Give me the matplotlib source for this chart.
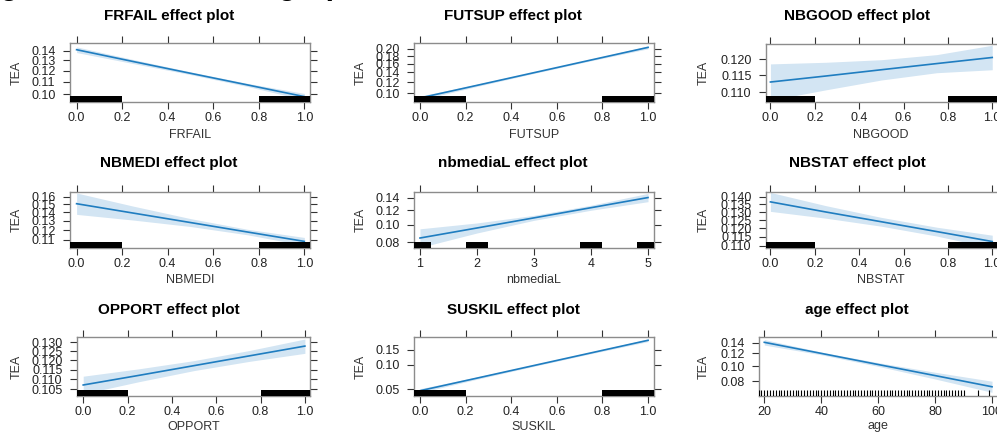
import matplotlib.pyplot as plt
from matplotlib.ticker import NullLocator

W, H = 997, 434

# values (TEA probability, logit axis)
x01 = [0.0, 0.25, 0.5, 0.75, 1.0]

frfail_fit = [0.141, 0.1288, 0.1177, 0.1075, 0.098]
frfail_lower = [0.138, 0.1268, 0.1165, 0.1062, 0.0955]
frfail_upper = [0.144, 0.1308, 0.1190, 0.1088, 0.1005]

futsup_fit = [0.0925, 0.1138, 0.1394, 0.1696, 0.2047]
futsup_lower = [0.0895, 0.1118, 0.1378, 0.1676, 0.2005]
futsup_upper = [0.0955, 0.1158, 0.1410, 0.1716, 0.2090]

nbgood_fit = [0.1130, 0.1148, 0.1167, 0.1186, 0.1205]
nbgood_lower = [0.1077, 0.1107, 0.1136, 0.1158, 0.1167]
nbgood_upper = [0.1185, 0.1190, 0.1198, 0.1214, 0.1244]

nbmedi_fit = [0.151, 0.1392, 0.1282, 0.1179, 0.1084]
nbmedi_lower = [0.1377, 0.1310, 0.1238, 0.1150, 0.1046]
nbmedi_upper = [0.1654, 0.1478, 0.1327, 0.1208, 0.1123]

nbmedial_x = [1, 2, 3, 4, 5]
nbmedial_fit = [0.0847, 0.0962, 0.1092, 0.1238, 0.140]
nbmedial_lower = [0.0750, 0.0903, 0.1059, 0.1200, 0.1332]
nbmedial_upper = [0.0952, 0.1025, 0.1127, 0.1276, 0.1471]

nbstat_fit = [0.1367, 0.1301, 0.1240, 0.1181, 0.1124]
nbstat_lower = [0.1305, 0.1262, 0.1213, 0.1155, 0.1088]
nbstat_upper = [0.1431, 0.1342, 0.1267, 0.1207, 0.1160]

opport_fit = [0.1072, 0.1120, 0.1171, 0.1224, 0.1279]
opport_lower = [0.1029, 0.1088, 0.1145, 0.1194, 0.1238]
opport_upper = [0.1116, 0.1154, 0.1198, 0.1254, 0.1320]

suskil_fit = [0.048, 0.0689, 0.0980, 0.1375, 0.1895]
suskil_lower = [0.0454, 0.0667, 0.0959, 0.1346, 0.1835]
suskil_upper = [0.0509, 0.0712, 0.1002, 0.1405, 0.1958]

age_x = [20, 40, 60, 80, 100]
age_fit = [0.1405, 0.1201, 0.1022, 0.0868, 0.0734]
age_lower = [0.1352, 0.1177, 0.0995, 0.0825, 0.0675]
age_upper = [0.1460, 0.1224, 0.1050, 0.0912, 0.0798]

# rug: observed value ranges (jittered) and ages
rug01 = [(-0.1, 0.2), (0.8, 1.1)]
rug_nbmedial = [(0.8, 1.2), (1.8, 2.2), (3.8, 4.2), (4.8, 5.2)]
age_rug = [18, 19, 20, 21, 22, 23, 24, 25, 26, 27, 28, 29, 30, 31, 32, 33,
           34, 35, 36, 37, 38, 39, 40, 41, 42, 43, 44, 45, 46, 47, 48, 49,
           50, 51, 52, 53, 54, 55, 56, 57, 58, 59, 60, 61, 62, 63, 64, 65,
           66, 67, 68, 69, 70, 71, 72, 73, 74, 75, 76, 77, 78, 79, 80, 81,
           82, 83, 84, 85, 86, 87, 88, 89, 90, 95, 99]

tick01 = [0.0, 0.2, 0.4, 0.6, 0.8, 1.0]

panels = [
    dict(name='FRFAIL', x=x01, fit=frfail_fit, lo=frfail_lower, hi=frfail_upper,
         box=(70, 310, 43, 102), xlim=(-0.029, 1.025), ylim=(0.0939, 0.1483),
         yt=[0.10, 0.11, 0.12, 0.13, 0.14], yl=['0.10', '0.11', '0.12', '0.13', '0.14'],
         xt=tick01, rug=rug01, col=0, row=0),
    dict(name='FUTSUP', x=x01, fit=futsup_fit, lo=futsup_lower, hi=futsup_upper,
         box=(414, 654, 43, 102), xlim=(-0.026, 1.026), ylim=(0.0865, 0.218),
         yt=[0.10, 0.12, 0.14, 0.16, 0.18, 0.20],
         yl=['0.10', '0.12', '0.14', '0.16', '0.18', '0.20'],
         xt=tick01, rug=rug01, col=1, row=0),
    dict(name='NBGOOD', x=x01, fit=nbgood_fit, lo=nbgood_lower, hi=nbgood_upper,
         box=(766, 998, 44, 102), xlim=(-0.020, 1.026), ylim=(0.1072, 0.1248),
         yt=[0.110, 0.115, 0.120], yl=['0.110', '0.115', '0.120'],
         xt=tick01, rug=rug01, col=2, row=0),
    dict(name='NBMEDI', x=x01, fit=nbmedi_fit, lo=nbmedi_lower, hi=nbmedi_upper,
         box=(70, 310, 192, 248), xlim=(-0.029, 1.025), ylim=(0.1021, 0.1668),
         yt=[0.11, 0.12, 0.13, 0.14, 0.15, 0.16],
         yl=['0.11', '0.12', '0.13', '0.14', '0.15', '0.16'],
         xt=tick01, rug=rug01, col=0, row=1),
    dict(name='nbmediaL', x=nbmedial_x, fit=nbmedial_fit, lo=nbmedial_lower,
         hi=nbmedial_upper, box=(414, 654, 192, 248), xlim=(0.895, 5.105),
         ylim=(0.0745, 0.1496), yt=[0.08, 0.10, 0.12, 0.14],
         yl=['0.08', '0.10', '0.12', '0.14'], xt=[1, 2, 3, 4, 5],
         rug=rug_nbmedial, col=1, row=1),
    dict(name='NBSTAT', x=x01, fit=nbstat_fit, lo=nbstat_lower, hi=nbstat_upper,
         box=(766, 998, 192, 248), xlim=(-0.020, 1.026), ylim=(0.1088, 0.1434),
         yt=[0.110, 0.115, 0.120, 0.125, 0.130, 0.135, 0.140],
         yl=['0.110', '0.115', '0.120', '0.125', '0.130', '0.135', '0.140'],
         xt=tick01, rug=rug01, col=2, row=1),
    dict(name='OPPORT', x=x01, fit=opport_fit, lo=opport_lower, hi=opport_upper,
         box=(77, 310, 337, 396), xlim=(-0.028, 1.023), ylim=(0.1019, 0.1332),
         yt=[0.105, 0.110, 0.115, 0.120, 0.125, 0.130],
         yl=['0.105', '0.110', '0.115', '0.120', '0.125', '0.130'],
         xt=tick01, rug=rug01, col=0, row=2),
    dict(name='SUSKIL', x=x01, fit=suskil_fit, lo=suskil_lower, hi=suskil_upper,
         box=(414, 654, 337, 396), xlim=(-0.026, 1.026), ylim=(0.0412, 0.2053),
         yt=[0.05, 0.10, 0.15], yl=['0.05', '0.10', '0.15'],
         xt=tick01, rug=rug01, col=1, row=2),
    dict(name='age', x=age_x, fit=age_fit, lo=age_lower, hi=age_upper,
         box=(759, 998, 337, 396), xlim=(18.14, 102.1), ylim=(0.0638, 0.1513),
         yt=[0.08, 0.10, 0.12, 0.14], yl=['0.08', '0.10', '0.12', '0.14'],
         xt=[20, 40, 60, 80, 100], rug=None, col=2, row=2),
]

title_x = [169, 513, 857]
title_y = [15.7, 163.3, 310]
xlab_y = [135, 280, 426.5]
ylab_x = [16.7, 361, 703.5]

LINE = '#1f7dc0'
BAND = '#d3e5f3'
TXT = '#222222'

fig = plt.figure(figsize=(W / 100, H / 100), dpi=100)
plt.rcParams['font.family'] = ['Liberation Sans', 'DejaVu Sans']

for p in panels:
    l, r, t, b = p['box']
    ax = fig.add_axes([l / W, 1 - b / H, (r - l) / W, (b - t) / H])
    ax.set_yscale('logit')

    ax.fill_between(p['x'], p['lo'], p['hi'], color=BAND, lw=0, zorder=1)
    ax.plot(p['x'], p['fit'], color=LINE, lw=1.2, zorder=2)

    if p['rug'] is not None:
        for x0, x1 in p['rug']:
            ax.axvspan(x0, x1, ymin=0, ymax=0.1, color='black', lw=0, zorder=3)
    else:
        ax.vlines(age_rug, 0, 0.11, color='black', lw=0.8,
                  transform=ax.get_xaxis_transform(), zorder=3)

    ax.set_xlim(*p['xlim'])
    ax.set_ylim(*p['ylim'])
    ax.set_xticks(p['xt'])
    ax.set_xticklabels([('%g' % v) if p['name'] in ('age', 'nbmediaL') else '%.1f' % v
                        for v in p['xt']])
    ax.set_yticks(p['yt'])
    ax.set_yticklabels(p['yl'])
    ax.yaxis.set_minor_locator(NullLocator())
    ax.xaxis.set_minor_locator(NullLocator())

    ax.tick_params(direction='out', length=5, width=0.8, color='#333333',
                   top=True, right=True, labeltop=False, labelright=False,
                   labelsize=9, labelcolor=TXT)
    ax.tick_params(axis='x', pad=2)
    ax.tick_params(axis='y', pad=5.5)
    for s in ax.spines.values():
        s.set_color('#8c8c8c')
        s.set_linewidth(1.0)

    c, rw = p['col'], p['row']
    fig.text(title_x[c] / W, 1 - title_y[rw] / H, p['name'] + ' effect plot',
             ha='center', va='center', fontsize=11, fontweight='bold', color='black')
    xc = (l + r) / 2 if c < 2 else (l + 992) / 2 + 2
    fig.text(xc / W, 1 - xlab_y[rw] / H, p['name'], ha='center', va='center',
             fontsize=9, color='#333333')
    fig.text(ylab_x[c] / W, 1 - (t + b) / 2 / H, 'TEA', ha='center', va='center',
             rotation=90, fontsize=9, color='#333333')

# caption of the page, cut off at the top of the picture
fig.text(-27 / W, 1 + 6.2 / H, 'Figure 4: Main effect graphs', ha='left',
         va='baseline', fontsize=22, fontweight='bold', color='black')

fig.savefig('out.png', dpi=100)
